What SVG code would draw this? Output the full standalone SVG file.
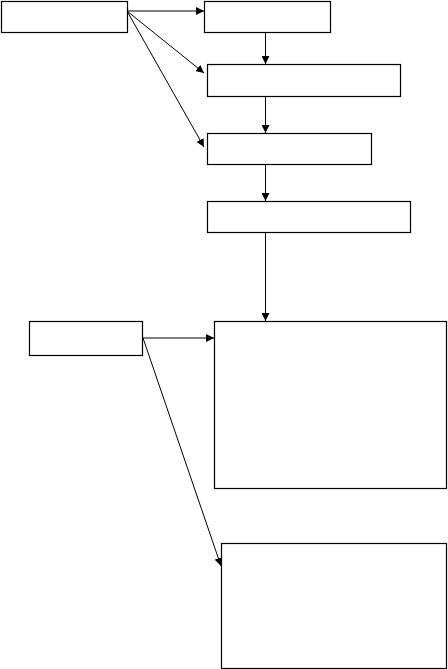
<svg xmlns="http://www.w3.org/2000/svg" width="448" height="669" viewBox="0 0 448 669">
<style>
.box{fill:#fff;stroke:#000;stroke-width:1.2}
.c{fill:none;stroke:#000;stroke-width:1;marker-end:url(#ah)}
</style>
<defs>
<marker id="ah" markerUnits="userSpaceOnUse" markerWidth="9" markerHeight="8" refX="8" refY="4" orient="auto">
<path d="M0,0 L8,4 L0,8 Z" fill="#000"/>
</marker>
</defs>
<rect width="448" height="669" fill="#fff"/>
<g id="connectors">
<line class="c" x1="127" y1="11" x2="204" y2="11"/>
<line class="c" x1="127" y1="11" x2="204" y2="73"/>
<line class="c" x1="127" y1="11" x2="204" y2="147"/>
<line class="c" x1="265.5" y1="32" x2="265.5" y2="64"/>
<line class="c" x1="265.5" y1="96" x2="265.5" y2="133"/>
<line class="c" x1="265.5" y1="164" x2="265.5" y2="201"/>
<line class="c" x1="265.5" y1="232" x2="265.5" y2="321"/>
<line class="c" x1="143" y1="338" x2="214" y2="338"/>
<line class="c" x1="143" y1="338" x2="221" y2="566"/>
</g>
<g id="nodeA"><rect class="box" x="1.5" y="1.5" width="126" height="31"/></g>
<g id="nodeB"><rect class="box" x="204.5" y="1.5" width="126" height="31"/></g>
<g id="nodeC"><rect class="box" x="207.5" y="64.5" width="193" height="32"/></g>
<g id="nodeD"><rect class="box" x="207.5" y="133.5" width="164" height="31"/></g>
<g id="nodeE"><rect class="box" x="207.5" y="201.5" width="203" height="31"/></g>
<g id="nodeF"><rect class="box" x="29.5" y="321.5" width="113" height="34"/></g>
<g id="nodeG"><rect class="box" x="214.5" y="321.5" width="232" height="167"/></g>
<g id="nodeH"><rect class="box" x="221.5" y="543.5" width="225" height="125"/></g>
</svg>
